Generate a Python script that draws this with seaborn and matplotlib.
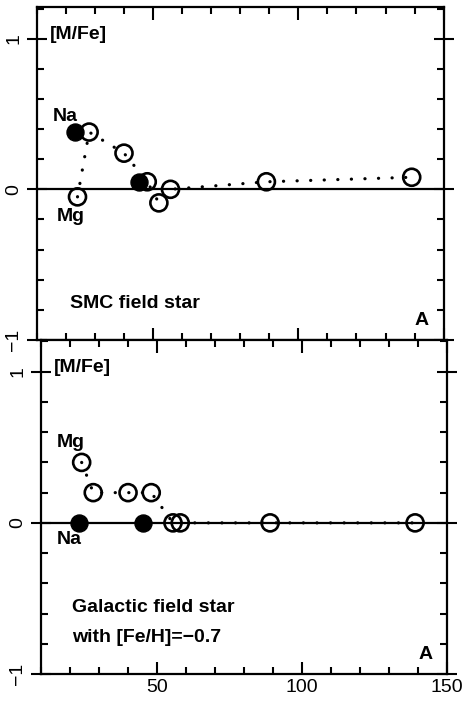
import numpy as np
import pandas as pd
import matplotlib
matplotlib.use("Agg")
import matplotlib.pyplot as plt
import seaborn as sns
from matplotlib.ticker import MultipleLocator

# SMC field star: filled = Na, Sc ; open = Mg, Si, Ca, Ti, Cr, Fe, Y, La
smc_filled_A = [23, 45]
smc_filled_MFe = [0.38, 0.05]
smc_open_A = [24, 28, 40, 48, 52, 56, 89, 139]
smc_open_MFe = [-0.05, 0.38, 0.24, 0.05, -0.09, 0.0, 0.05, 0.08]

# Galactic field star with [Fe/H]=-0.7
gal_filled_A = [23, 45]
gal_filled_MFe = [0.0, 0.0]
gal_open_A = [24, 28, 40, 48, 55.5, 58, 89, 139]
gal_open_MFe = [0.40, 0.20, 0.20, 0.20, 0.0, 0.0, 0.0, 0.0]

sns.set_style("ticks")
plt.rcParams["font.family"] = ["Liberation Sans", "DejaVu Sans"]
plt.rcParams.update({
    "text.color": "black", "axes.edgecolor": "black",
    "xtick.color": "black", "ytick.color": "black",
    "axes.labelcolor": "black",
})

fig = plt.figure(figsize=(4.72, 7.01), dpi=100)
ax1 = fig.add_axes([0.078, 0.515, 0.862, 0.475])
ax2 = fig.add_axes([0.087, 0.0385, 0.860, 0.4765])

panels = [
    (ax1, smc_filled_A, smc_filled_MFe, smc_open_A, smc_open_MFe),
    (ax2, gal_filled_A, gal_filled_MFe, gal_open_A, gal_open_MFe),
]

for ax, fa, fm, oa, om in panels:
    ax.axhline(0, color="black", lw=1.6, zorder=1)
    df_open = pd.DataFrame({"A": oa, "MFe": om})
    sns.lineplot(data=df_open, x="A", y="MFe", sort=False, ax=ax, color="black",
                 lw=2.3, linestyle=(0, (0.05, 4.2)), dash_capstyle="round", zorder=2)
    sns.scatterplot(x=oa, y=om, ax=ax, marker="o", s=150, facecolor="none",
                    edgecolor="black", linewidth=1.9, zorder=3)
    sns.scatterplot(x=fa, y=fm, ax=ax, marker="o", s=150, color="black",
                    edgecolor="black", linewidth=1, zorder=4)
    ax.set_xlim(10, 150)
    ax.set_ylim(-1, 1.21)
    ax.set_xlabel("")
    ax.set_ylabel("")
    ax.xaxis.set_major_locator(MultipleLocator(50))
    ax.xaxis.set_minor_locator(MultipleLocator(10))
    ax.yaxis.set_major_locator(MultipleLocator(1))
    ax.yaxis.set_minor_locator(MultipleLocator(0.2))
    ax.tick_params(which="both", direction="in", top=True, right=True, width=1.5)
    ax.tick_params(which="major", length=9, labelsize=14)
    ax.tick_params(which="minor", length=5)
    ax.tick_params(axis="y", which="major", direction="inout", length=14)
    for lab in ax.get_yticklabels():
        lab.set_rotation(90)
        lab.set_va("center")
    for sp in ax.spines.values():
        sp.set_linewidth(1.6)
        sp.set_visible(True)
    ax.text(14.5, 1.03, "[M/Fe]", fontsize=14, fontweight="bold", va="center")
    ax.text(142.5, -0.87, "A", fontsize=14, fontweight="bold", ha="center", va="center")

ax1.set_xticklabels([])
ax1.text(15.5, 0.48, "Na", fontsize=14, fontweight="bold", va="center")
ax1.text(16.9, -0.18, "Mg", fontsize=14, fontweight="bold", va="center")
ax1.text(21.4, -0.76, "SMC field star", fontsize=14, fontweight="bold", va="center")

ax2.text(15.5, 0.53, "Mg", fontsize=14, fontweight="bold", va="center")
ax2.text(15.5, -0.11, "Na", fontsize=14, fontweight="bold", va="center")
ax2.text(20.7, -0.56, "Galactic field star", fontsize=14, fontweight="bold", va="center")
ax2.text(20.7, -0.76, "with [Fe/H]=\u22120.7", fontsize=14, fontweight="bold", va="center")

fig.savefig("out.png", dpi=100)
